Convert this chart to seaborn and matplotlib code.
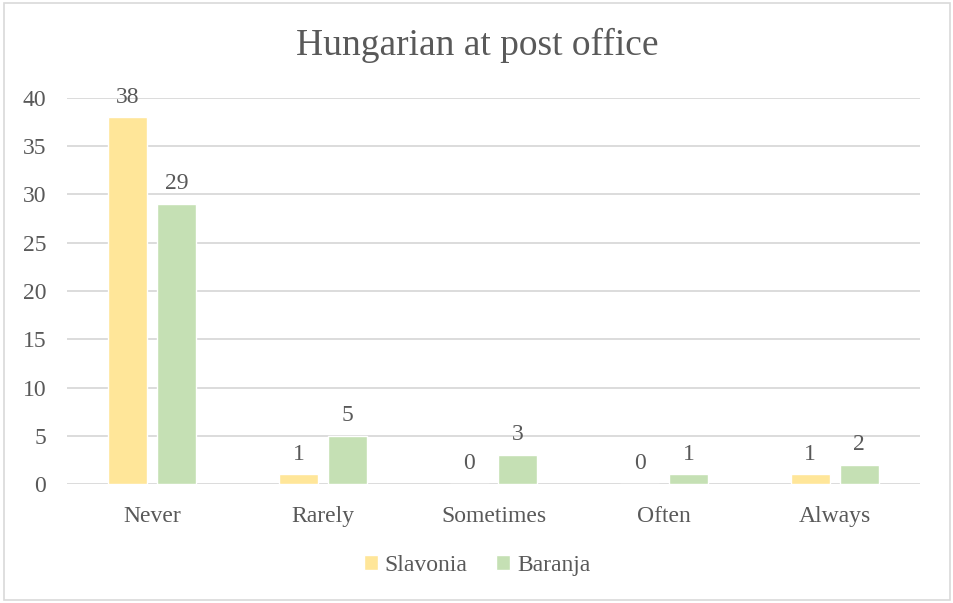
import numpy as np
import pandas as pd
import matplotlib.pyplot as plt
import seaborn as sns
from matplotlib.patches import Rectangle

categories = ["Never", "Rarely", "Sometimes", "Often", "Always"]
slavonia = [38, 1, 0, 0, 1]
baranja = [29, 5, 3, 1, 2]
regions = ["Slavonia", "Baranja"]
colors = ["#FFE699", "#C5E0B4"]
text_gray = "#595959"

df = pd.DataFrame({
    "answer": categories * 2,
    "count": slavonia + baranja,
    "region": [regions[0]] * len(categories) + [regions[1]] * len(categories),
})

sns.set_style("white")
plt.rcParams["font.family"] = ["Liberation Serif", "DejaVu Serif"]

fig = plt.figure(figsize=(9.54, 6.03), dpi=100)
ax = fig.add_axes([0.0702, 0.1973, 0.8942, 0.6402])

sns.barplot(data=df, x="answer", y="count", hue="region", order=categories,
            hue_order=regions, palette=colors, width=0.573, gap=0.2,
            saturation=1, ax=ax, legend=True)

for c in ax.containers:
    ax.bar_label(c, fmt="%d", padding=7, fontsize=17, color=text_gray)

ax.set_xlim(-0.5, 4.5)
ax.set_ylim(0, 40)
ax.set_yticks(range(0, 41, 5))
ax.yaxis.grid(True, color="#D9D9D9", linewidth=1.3)
ax.set_axisbelow(True)
for s in ax.spines.values():
    s.set_visible(False)
ax.tick_params(axis="both", length=0, labelsize=17, colors=text_gray)
ax.tick_params(axis="x", pad=16)
ax.tick_params(axis="y", pad=15)
ax.set_xlabel("")
ax.set_ylabel("")

# title centred on the whole figure, not the plot area
fig.text(0.5, 0.925, "Hungarian at post office", fontsize=27, color=text_gray,
         ha="center", va="center")

handles, labels = ax.get_legend_handles_labels()
ax.legend(handles, labels, loc="center", bbox_to_anchor=(0.5, 0.062),
          bbox_transform=fig.transFigure, ncol=2, frameon=False,
          fontsize=17, labelcolor=text_gray, handlelength=0.6,
          handleheight=0.6, handletextpad=0.3, columnspacing=1.2)

fig.patches.append(Rectangle((0.004, 0.005), 0.992, 0.99, transform=fig.transFigure,
                             fill=False, edgecolor="#D9D9D9", linewidth=1.2))

plt.savefig("out.png", dpi=100)
